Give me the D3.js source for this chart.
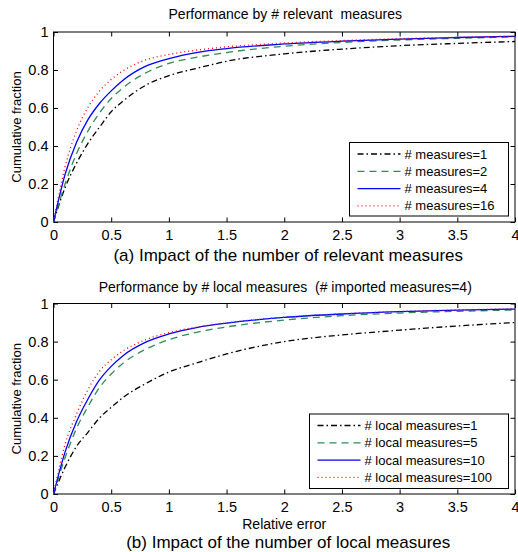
<!DOCTYPE html>
<html>
<head>
<meta charset="utf-8">
<script src="https://cdn.jsdelivr.net/npm/d3@7"></script>
<style>
  body { margin: 0; background: #fff; }
  text { font-family: "Liberation Sans", Arial, sans-serif; fill: #000; white-space: pre; }
</style>
</head>
<body>
<svg id="chart" width="518" height="552"></svg>
<script>
// x positions (relative error) where curves were read
let errGrid = [0, 0.1, 0.2, 0.3, 0.4, 0.5, 0.6, 0.8, 1, 1.25, 1.5, 2, 2.5, 3, 3.5, 4];

// (a) number of relevant measures
let relNames = ["# measures=1", "# measures=2", "# measures=4", "# measures=16"];
let relM1  = [0, 0.18, 0.31, 0.415, 0.50, 0.58, 0.635, 0.72, 0.77, 0.81, 0.846, 0.885, 0.91, 0.928, 0.94, 0.95];
let relM2  = [0, 0.20, 0.36, 0.48, 0.575, 0.65, 0.705, 0.785, 0.835, 0.868, 0.892, 0.925, 0.945, 0.958, 0.967, 0.974];
let relM4  = [0, 0.25, 0.42, 0.54, 0.625, 0.69, 0.745, 0.82, 0.86, 0.893, 0.913, 0.937, 0.952, 0.963, 0.971, 0.977];
let relM16 = [0, 0.29, 0.48, 0.605, 0.69, 0.75, 0.795, 0.853, 0.882, 0.905, 0.922, 0.942, 0.955, 0.965, 0.972, 0.978];

// (b) number of local measures
let locNames = ["# local measures=1", "# local measures=5", "# local measures=10", "# local measures=100"];
let locL1   = [0, 0.14, 0.25, 0.325, 0.40, 0.455, 0.505, 0.58, 0.64, 0.69, 0.735, 0.80, 0.835, 0.86, 0.882, 0.90];
let locL5   = [0, 0.19, 0.345, 0.46, 0.56, 0.63, 0.685, 0.76, 0.81, 0.85, 0.877, 0.913, 0.936, 0.95, 0.959, 0.966];
let locL10  = [0, 0.22, 0.38, 0.50, 0.60, 0.67, 0.725, 0.797, 0.84, 0.875, 0.897, 0.927, 0.945, 0.957, 0.965, 0.971];
let locL100 = [0, 0.26, 0.42, 0.55, 0.645, 0.705, 0.75, 0.81, 0.847, 0.877, 0.898, 0.928, 0.946, 0.958, 0.966, 0.972];

let xTicks = [0, 0.5, 1, 1.5, 2, 2.5, 3, 3.5, 4];
let yTicks = [0, 0.2, 0.4, 0.6, 0.8, 1];

// line styles, same order as the series
let styles = [
    {color: "#000000", dash: "6,3,1.5,3"},
    {color: "#2e8b57", dash: "7,5"},
    {color: "#0000ff", dash: null},
    {color: "#ff0000", dash: "1,3"}
];

let svg = d3.select("#chart");
let xLeft = 53.5, xRight = 515;

let panels = [
    {top: 32, bottom: 222, title: "Performance by # relevant  measures", titleY: 19,
     caption: "(a) Impact of the number of relevant measures", captionY: 260.5,
     series: [relM1, relM2, relM4, relM16], names: relNames,
     legend: {x: 349.5, y: 142.5, w: 159, h: 73.5}, xlabel: null},
    {top: 303.5, bottom: 494, title: "Performance by # local measures  (# imported measures=4)", titleY: 292,
     caption: "(b) Impact of the number of local measures", captionY: 548,
     series: [locL1, locL5, locL10, locL100], names: locNames,
     legend: {x: 309.5, y: 414, w: 199, h: 74.5}, xlabel: "Relative error"}
];

panels.forEach(function (p) {
    let x = d3.scaleLinear().domain([0, 4]).range([xLeft, xRight]);
    let y = d3.scaleLinear().domain([0, 1]).range([p.bottom, p.top]);
    let g = svg.append("g");

    // inward ticks on all four sides
    g.append("g").attr("transform", "translate(0," + p.bottom + ")")
        .call(d3.axisBottom(x).tickValues(xTicks).tickSizeInner(-4.5).tickSizeOuter(0).tickPadding(7.5)
            .tickFormat(d3.format("")));
    g.append("g").attr("transform", "translate(0," + p.top + ")")
        .call(d3.axisTop(x).tickValues(xTicks).tickSizeInner(-4.5).tickSizeOuter(0).tickFormat(""));
    g.append("g").attr("transform", "translate(" + xLeft + ",0)")
        .call(d3.axisLeft(y).tickValues(yTicks).tickSizeInner(-4.5).tickSizeOuter(0).tickPadding(5)
            .tickFormat(d3.format("")));
    g.append("g").attr("transform", "translate(" + xRight + ",0)")
        .call(d3.axisRight(y).tickValues(yTicks).tickSizeInner(-4.5).tickSizeOuter(0).tickFormat(""));
    g.selectAll(".domain").remove();
    g.selectAll(".tick line").attr("stroke", "#000");
    g.selectAll(".tick text").style("font-size", "14.5px").attr("fill", "#000");

    g.append("rect")
        .attr("x", xLeft).attr("y", p.top)
        .attr("width", xRight - xLeft).attr("height", p.bottom - p.top)
        .attr("fill", "none").attr("stroke", "#000").attr("stroke-width", 1);

    let line = d3.line()
        .x(function (d, i) { return x(errGrid[i]); })
        .y(function (d) { return y(d); })
        .curve(d3.curveMonotoneX);

    for (let s = 0; s < p.series.length; s++) {
        g.append("path")
            .attr("d", line(p.series[s]))
            .attr("fill", "none")
            .attr("stroke", styles[s].color)
            .attr("stroke-width", 1.3)
            .attr("stroke-dasharray", styles[s].dash);
    }

    // legend
    let lg = g.append("g");
    lg.append("rect")
        .attr("x", p.legend.x).attr("y", p.legend.y)
        .attr("width", p.legend.w).attr("height", p.legend.h)
        .attr("fill", "#fff").attr("stroke", "#000").attr("stroke-width", 1);
    for (let s = 0; s < p.names.length; s++) {
        let rowY = p.legend.y + 11.5 + s * 17.3;
        lg.append("line")
            .attr("x1", p.legend.x + 8).attr("x2", p.legend.x + 51)
            .attr("y1", rowY).attr("y2", rowY)
            .attr("stroke", styles[s].color)
            .attr("stroke-width", 1.3)
            .attr("stroke-dasharray", styles[s].dash);
        lg.append("text")
            .attr("x", p.legend.x + 55).attr("y", rowY + 4.5)
            .style("font-size", "13px")
            .text(p.names[s]);
    }

    svg.append("text")
        .attr("x", (xLeft + xRight) / 2 + 1).attr("y", p.titleY)
        .attr("text-anchor", "middle").style("font-size", "14px")
        .text(p.title);

    svg.append("text")
        .attr("transform", "translate(21," + ((p.top + p.bottom) / 2) + ") rotate(-90)")
        .attr("text-anchor", "middle").style("font-size", "13px")
        .text("Cumulative fraction");

    if (p.xlabel) {
        svg.append("text")
            .attr("x", (xLeft + xRight) / 2).attr("y", 529)
            .attr("text-anchor", "middle").style("font-size", "14px")
            .text(p.xlabel);
    }

    svg.append("text")
        .attr("x", (xLeft + xRight) / 2 + 4).attr("y", p.captionY)
        .attr("text-anchor", "middle").style("font-size", "17px")
        .text(p.caption);
});
</script>
</body>
</html>
